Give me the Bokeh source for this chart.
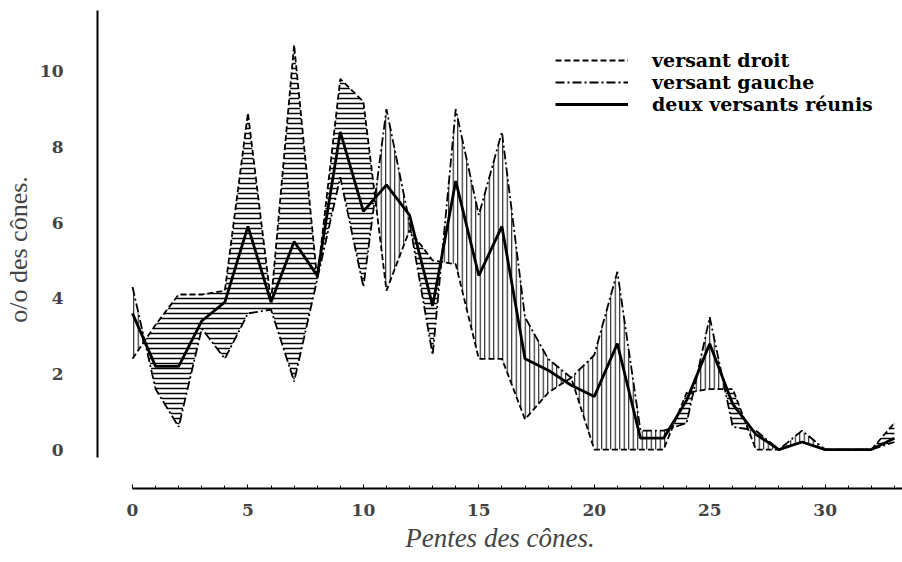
import numpy as np
from bokeh.plotting import figure
from bokeh.models import Range1d, FixedTicker, Legend, LegendItem
from bokeh.embed import file_html
from bokeh.resources import INLINE

# ---- data ----
pentes = list(range(34))
droit = [2.4, 3.3, 4.1, 4.1, 4.2, 8.9, 3.9, 10.7, 4.5, 9.8, 9.2, 4.2, 5.8, 5.0, 4.9, 2.4, 2.4,
         0.8, 1.5, 1.9, 0.0, 0.0, 0.0, 0.0, 1.5, 1.6, 1.6, 0.0, 0.0, 0.2, 0.0, 0.0, 0.0, 0.7]
gauche = [4.3, 1.6, 0.6, 3.2, 2.4, 3.6, 3.7, 1.8, 4.5, 7.2, 4.3, 9.0, 6.0, 2.5, 9.0, 6.2, 8.4,
          3.5, 2.4, 1.9, 2.5, 4.7, 0.5, 0.5, 0.7, 3.5, 0.6, 0.5, 0.0, 0.5, 0.0, 0.0, 0.0, 0.2]
reunis = [3.6, 2.2, 2.2, 3.4, 3.9, 5.9, 3.9, 5.5, 4.6, 8.4, 6.3, 7.0, 6.2, 3.8, 7.1, 4.6, 5.9,
          2.4, 2.1, 1.7, 1.4, 2.8, 0.3, 0.3, 1.3, 2.8, 1.2, 0.4, 0.0, 0.2, 0.0, 0.0, 0.0, 0.3]
x_ticks = [0, 5, 10, 15, 20, 25, 30]
y_ticks = [0, 2, 4, 6, 8, 10]
labels = ["versant droit", "versant gauche", "deux versants réunis"]
x_title = "Pentes des cônes."
y_title = "o/o des cônes."


def with_crossings(x, a, b):
    xs, ya, yb = [x[0]], [a[0]], [b[0]]
    for i in range(1, len(x)):
        d0 = a[i - 1] - b[i - 1]
        d1 = a[i] - b[i]
        if d0 * d1 < 0:
            t = d0 / (d0 - d1)
            xc = x[i - 1] + t * (x[i] - x[i - 1])
            yc = a[i - 1] + t * (a[i] - a[i - 1])
            xs.append(xc); ya.append(yc); yb.append(yc)
        xs.append(x[i]); ya.append(a[i]); yb.append(b[i])
    return np.array(xs, float), np.array(ya, float), np.array(yb, float)


xs, yd, yg = with_crossings(pentes, droit, gauche)
top = np.maximum(yd, yg)

SERIF = "Liberation Serif"
BOLD = "DejaVu Serif"

p = figure(width=902, height=562, output_backend="svg", toolbar_location=None,
           x_range=Range1d(-1.516, 33.35), y_range=Range1d(-1.03, 11.61),
           min_border_left=97, min_border_right=0, min_border_top=10, min_border_bottom=74)
p.grid.visible = False
p.outline_line_color = None
p.background_fill_color = "white"
p.border_fill_color = "white"

# hatched areas between the two slopes
p.varea(x=xs, y1=yg, y2=top, fill_alpha=0, hatch_pattern="horizontal_line",
        hatch_color="black", hatch_scale=5, hatch_weight=1.5, hatch_alpha=1.0)
p.varea(x=xs, y1=yd, y2=top, fill_alpha=0, hatch_pattern="vertical_line",
        hatch_color="black", hatch_scale=4.5, hatch_weight=1.1, hatch_alpha=0.9)

r1 = p.line(pentes, droit, line_color="black", line_width=1.8, line_dash="6 3")
r2 = p.line(pentes, gauche, line_color="black", line_width=1.8, line_dash="9 3 2 3")
r3 = p.line(pentes, reunis, line_color="black", line_width=2.8)

# one legend per row so that the rows can sit close together as in the print
row_bottoms = [417, 395, 373]
for lab, rend, vy in zip(labels, [r1, r2, r3], row_bottoms):
    lg = Legend(items=[LegendItem(label=lab, renderers=[rend])],
                location=(458, vy), orientation="vertical",
                glyph_width=73, glyph_height=14, spacing=0, padding=0, margin=0,
                label_standoff=24, label_height=14,
                label_text_font=BOLD, label_text_font_style="bold",
                label_text_font_size="19px", label_text_color="black",
                background_fill_alpha=0, border_line_alpha=0)
    p.add_layout(lg)

# axes
xa = p.xaxis[0]
xa.ticker = FixedTicker(ticks=x_ticks, minor_ticks=pentes)
xa.bounds = (0, 33.35)
xa.axis_line_width = 2
xa.major_tick_in = 4
xa.major_tick_out = 0
xa.minor_tick_in = 3
xa.minor_tick_out = 0
xa.major_label_standoff = 15
xa.major_label_text_font = BOLD
xa.major_label_text_font_style = "bold"
xa.major_label_text_font_size = "17px"
xa.axis_label = x_title
xa.axis_label_text_font = SERIF
xa.axis_label_text_font_style = "italic"
xa.axis_label_text_font_size = "27px"
xa.axis_label_standoff = 4

ya = p.yaxis[0]
ya.ticker = FixedTicker(ticks=y_ticks)
ya.bounds = (-0.2, 11.61)
ya.axis_line_width = 2
ya.major_tick_in = 0
ya.major_tick_out = 0
ya.minor_tick_in = 0
ya.minor_tick_out = 0
ya.major_label_standoff = 34
ya.major_label_text_font = BOLD
ya.major_label_text_font_style = "bold"
ya.major_label_text_font_size = "17px"
ya.axis_label = y_title
ya.axis_label_text_font = SERIF
ya.axis_label_text_font_style = "normal"
ya.axis_label_text_font_size = "26px"
ya.axis_label_standoff = 4

open("out.html", "w").write(file_html(p, INLINE))
